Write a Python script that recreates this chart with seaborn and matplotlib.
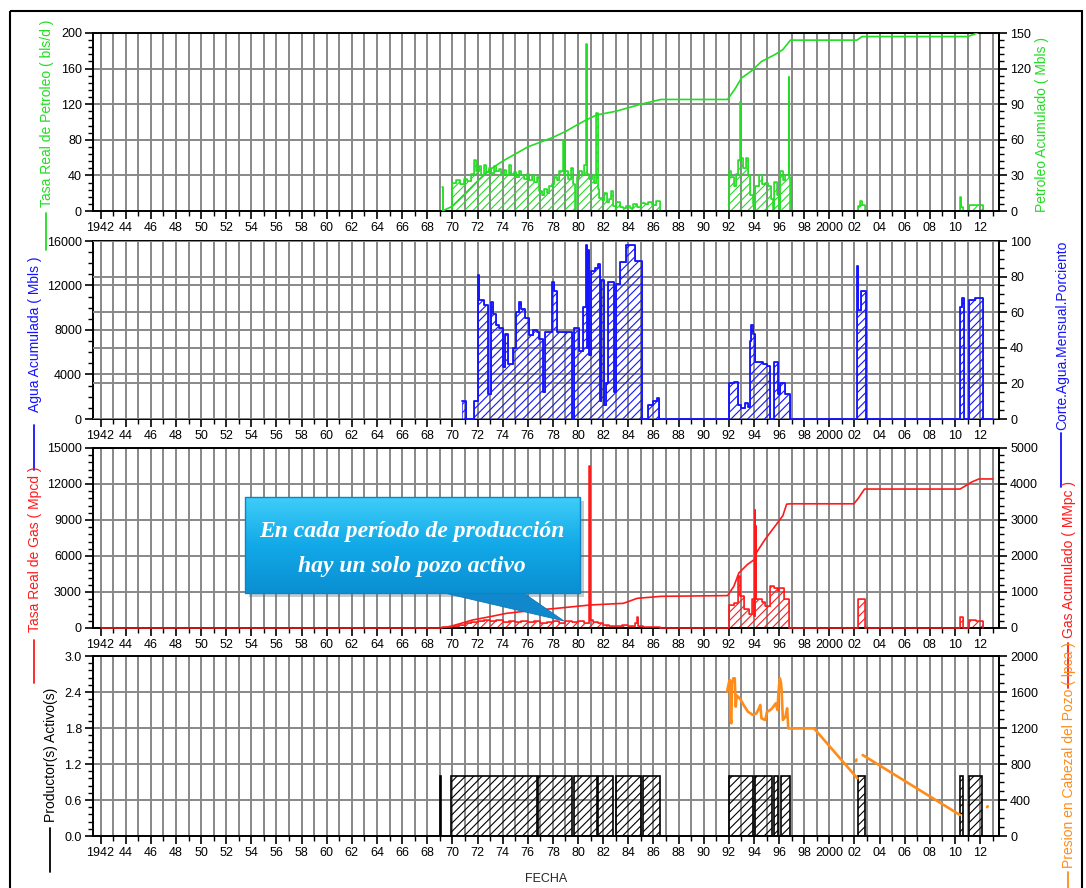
import numpy as np
import pandas as pd
import matplotlib
matplotlib.use('Agg')
import matplotlib.pyplot as plt
import seaborn as sns
from matplotlib.ticker import MultipleLocator, AutoMinorLocator
from matplotlib.patches import Rectangle, Polygon
from matplotlib.colors import LinearSegmentedColormap

sns.set_theme(style='ticks')
plt.rcParams['font.family'] = ['Liberation Sans', 'DejaVu Sans']
plt.rcParams['hatch.linewidth'] = 0.8

GREEN = '#22dd22'
BLUE = '#1414ff'
RED = '#ff1a1a'
ORANGE = '#ff8c1a'
GRID = '#888888'

# ---- x axis ----
year_ticks = list(range(1942, 2013, 2))
year_labels = [str(y) if y in (1942, 2000) else f'{y % 100:02d}' for y in year_ticks]

# ---- oil rate (bls/d), step values ----
oil_t = [1969.15, 1969.25, 1970.0, 1970.3, 1970.6, 1970.9, 1971.2, 1971.5, 1971.75, 1971.9,
         1972.1, 1972.3, 1972.5, 1972.7, 1972.9, 1973.1, 1973.3, 1973.5, 1973.7, 1973.9,
         1974.1, 1974.3, 1974.5, 1974.7, 1974.9, 1975.1, 1975.3, 1975.5, 1975.7, 1975.9,
         1976.1, 1976.3, 1976.5, 1976.7, 1976.9, 1977.1, 1977.3, 1977.5, 1977.7, 1977.9,
         1978.1, 1978.3, 1978.5, 1978.8, 1978.85, 1979.0, 1979.2, 1979.4, 1979.6, 1979.75,
         1979.9, 1980.1, 1980.3, 1980.5, 1980.65, 1980.7, 1980.9, 1981.1, 1981.3, 1981.45,
         1981.55, 1981.7, 1981.9, 1982.1, 1982.3, 1982.5, 1982.65, 1982.75, 1983.0, 1983.3,
         1983.6, 1983.8, 1984.1, 1984.4, 1984.7, 1985.0, 1985.3, 1985.6, 1985.9, 1986.2,
         1986.55, 1992.0, 1992.2, 1992.4, 1992.55, 1992.7, 1992.9, 1992.95, 1993.15, 1993.4,
         1993.5, 1993.7, 1993.9, 1994.05, 1994.1, 1994.4, 1994.6, 1994.9, 1995.1, 1995.35,
         1995.55, 1995.6, 1995.85, 1996.0, 1996.1, 1996.3, 1996.5, 1996.75, 1996.8, 1996.87,
         2002.25, 2002.4, 2002.6, 2002.85, 2010.4, 2010.5, 2010.65, 2011.1, 2012.2]
oil_q = [27, 0, 32, 35, 30, 36, 34, 42, 57, 45,
         50, 40, 52, 44, 48, 43, 50, 45, 47, 41,
         46, 40, 52, 42, 44, 38, 45, 40, 36, 42,
         35, 40, 33, 38, 22, 18, 25, 20, 28, 30,
         38, 35, 45, 80, 40, 45, 36, 48, 30, 0,
         38, 45, 40, 52, 188, 42, 36, 40, 32, 110,
         25, 15, 12, 20, 10, 14, 22, 6, 10, 4,
         3, 6, 3, 8, 5, 9, 8, 10, 7, 11,
         0, 45, 38, 28, 42, 57, 123, 60, 48, 59,
         40, 18, 8, 0, 28, 40, 30, 32, 28, 14,
         0, 33, 18, 0, 45, 35, 40, 150, 38, 0,
         6, 11, 7, 0, 16, 5, 0, 7, 0]

# ---- cumulative oil (Mbls) ----
oil_cum_t = [1969.2, 1970.0, 1971.0, 1972.0, 1973.0, 1974.0, 1975.0, 1976.0, 1977.0, 1978.0,
             1979.0, 1980.0, 1980.7, 1981.5, 1982.0, 1983.0, 1984.0, 1985.0, 1986.6, 1991.9,
             1992.5, 1993.0, 1993.8, 1994.6, 1995.7, 1996.3, 1996.9, 2002.2, 2002.6, 2011.0,
             2011.8]
oil_cum = [0, 4, 14, 25, 35, 42, 48, 54, 58, 62,
           67, 73, 77, 81, 82, 84, 87, 90, 94, 94,
           103, 112, 118, 126, 132, 136, 144, 144, 147, 147,
           150]

# ---- water cut (%) ----
wc_t = [1970.8, 1971.1, 1971.7, 1972.05, 1972.12, 1972.5, 1972.8, 1973.05, 1973.2, 1973.45,
        1973.7, 1974.0, 1974.15, 1974.4, 1974.8, 1975.1, 1975.3, 1975.5, 1975.8, 1976.1,
        1976.4, 1976.7, 1976.9, 1977.2, 1977.4, 1977.9, 1978.1, 1978.35, 1979.55, 1979.7,
        1980.1, 1980.4, 1980.65, 1980.72, 1980.8, 1980.9, 1981.0, 1981.35, 1981.6, 1981.75,
        1981.82, 1982.1, 1982.25, 1982.35, 1982.9, 1983.0, 1983.3, 1983.8, 1984.5, 1985.1,
        1985.6, 1985.95, 1986.25, 1986.45, 1992.0, 1992.4, 1992.7, 1993.0, 1993.3, 1993.5,
        1993.65, 1993.8, 1993.9, 1994.07, 1994.7, 1995.0, 1995.3, 1995.6, 1995.95, 1996.1,
        1996.5, 1996.85, 2002.2, 2002.27, 2002.5, 2002.9, 2010.4, 2010.55, 2010.72, 2011.1,
        2011.6, 2012.2, 2013.0]
wc_v = [10, 0, 10, 81, 67, 64, 14, 66, 59, 53,
        51, 29, 48, 31, 40, 60, 66, 62, 57, 47,
        50, 49, 45, 15, 49, 77, 72, 49, 0, 51,
        38, 63, 98, 40, 95, 36, 83, 85, 87, 10,
        78, 8, 20, 77, 15, 76, 88, 98, 89, 0,
        8, 10, 12, 0, 20, 21, 8, 6, 9, 7,
        44, 53, 48, 32, 31, 30, 0, 32, 14, 20,
        14, 0, 86, 61, 72, 0, 63, 68, 0, 67,
        68, 0, 0]

# ---- gas rate (Mpcd) ----
gas_t = [1942.0, 1969.2, 1970.0, 1970.5, 1971.0, 1971.5, 1972.0, 1972.5, 1973.0, 1973.5,
         1974.0, 1974.5, 1975.0, 1975.5, 1976.0, 1976.5, 1977.0, 1977.5, 1978.0, 1978.5,
         1979.0, 1979.5, 1980.0, 1980.5, 1980.9, 1980.95, 1981.2, 1981.6, 1982.0, 1982.5,
         1983.0, 1983.5, 1984.0, 1984.5, 1984.7, 1984.8, 1985.2, 1985.8, 1986.5, 1992.0,
         1992.4, 1992.75, 1992.85, 1993.2, 1993.6, 1993.85, 1994.0, 1994.07, 1994.12, 1994.15,
         1994.2, 1994.6, 1994.9, 1995.3, 1995.6, 1995.9, 1996.0, 1996.4, 1996.8, 2002.3,
         2002.8, 2010.4, 2010.6, 2011.1, 2011.7, 2012.2]
gas_q = [0, 80, 150, 250, 400, 500, 600, 700, 550, 650,
         500, 600, 520, 580, 480, 550, 450, 500, 550, 450,
         600, 500, 550, 400, 13500, 700, 500, 400, 250, 200,
         150, 250, 200, 400, 950, 200, 100, 80, 0, 1950,
         2100, 4300, 2650, 1550, 1200, 2400, 1000, 9800, 2400, 8500,
         2400, 2200, 1800, 3500, 3300, 3100, 3350, 2400, 0, 2400,
         0, 950, 0, 700, 550, 0]

# ---- cumulative gas (MMpc) ----
gas_cum_t = [1969.2, 1970.0, 1971.0, 1971.6, 1973.0, 1974.3, 1976.4, 1978.3, 1981.0, 1983.6,
             1984.2, 1984.7, 1986.6, 1991.9, 1992.4, 1992.8, 1993.5, 1994.07, 1994.2, 1994.9,
             1995.7, 1996.3, 1996.6, 1996.9, 2001.95, 2002.3, 2002.8, 2010.4, 2010.7, 2011.3,
             2011.9, 2013.0]
gas_cum = [0, 60, 160, 222, 315, 407, 490, 546, 640, 685,
           760, 824, 880, 900, 1160, 1530, 1770, 1910, 2095, 2470,
           2840, 3120, 3440, 3450, 3450, 3600, 3860, 3860, 3920, 4050,
           4140, 4140]

# ---- active producers ----
prod_start = [1969.0, 1969.9, 1976.8, 1979.7, 1981.6, 1983.05, 1985.2, 1992.0, 1994.07, 1995.6,
              1996.15, 2002.3, 2010.4, 2011.1]
prod_end = [1969.08, 1976.75, 1979.55, 1981.5, 1982.8, 1985.0, 1986.55, 1993.93, 1995.4, 1995.95,
            1996.9, 2002.85, 2010.65, 2012.15]
prod_n = [1, 1, 1, 1, 1, 1, 1, 1, 1, 1, 1, 1, 1, 1]

# ---- wellhead pressure (lpca) ----
pres_t = [1991.86, 1992.0, 1992.08, 1992.15, 1992.2, 1992.25, 1992.35, 1992.47, 1992.55, 1992.62,
          1992.74, 1992.96, 1993.2, 1993.52, 1993.93, 1994.2, 1994.4, 1994.5, 1994.6, 1994.9,
          1995.04, 1995.3, 1995.45, 1995.73, 1995.87, 1995.95, 1996.06, 1996.15, 1996.2, 1996.3,
          1996.5, 1996.64, 1996.73, 1998.78, 2002.23,
          2002.12, 2002.16,
          2002.65, 2010.4,
          2012.55, 2012.6]
pres_v = [1604, 1700, 1733, 1300, 1252, 1700, 1752, 1752, 1437, 1560,
          1548, 1511, 1450, 1381, 1344, 1363, 1420, 1456, 1307, 1289,
          1381, 1400, 1419, 1474, 1400, 1600, 1752, 1700, 1622, 1289,
          1326, 1419, 1196, 1196, 641,
          830, 850,
          900, 233,
          320, 330]
pres_seg = [0] * 35 + [1] * 2 + [2] * 2 + [3] * 2
pres = pd.DataFrame({'t': pres_t, 'p': pres_v, 'seg': pres_seg})

W, H = 1086, 888
fig = plt.figure(figsize=(W / 100, H / 100), dpi=100)
fig.patch.set_facecolor('white')


def panel(top, bottom, ylim, ystep, yminor, ylim2, ystep2, yminor2, fmt='{:.0f}', grid2=False):
    ax = fig.add_axes([93 / W, 1 - bottom / H, (999 - 93) / W, (bottom - top) / H])
    ax.set_facecolor('white')
    ax2 = ax.twinx()
    ax.set_xlim(1941.4, 2013.5)
    ax.set_xticks(year_ticks)
    ax.set_xticklabels(year_labels)
    ax.xaxis.set_minor_locator(MultipleLocator(1))
    ax.set_ylim(*ylim)
    ax.yaxis.set_major_locator(MultipleLocator(ystep))
    ax.yaxis.set_minor_locator(AutoMinorLocator(yminor))
    ax.set_yticklabels([fmt.format(v) for v in ax.get_yticks()])
    ax2.set_ylim(*ylim2)
    ax2.yaxis.set_major_locator(MultipleLocator(ystep2))
    ax2.yaxis.set_minor_locator(AutoMinorLocator(yminor2))
    ax.grid(axis='x', which='both', color=GRID, lw=1.4)
    ax.grid(axis='y', which='major', color=GRID, lw=1.4)
    ax.set_axisbelow(True)
    if grid2:
        ax2.grid(axis='y', which='major', color=GRID, lw=1.4)
        ax2.set_axisbelow(True)
    else:
        ax2.grid(False)
    for s in ax.spines.values():
        s.set_color('black')
        s.set_linewidth(1.4)
        s.set_visible(True)
    # the twin only keeps its right spine so data lines of the base axes stay on top
    for name, s in ax2.spines.items():
        s.set_color('black')
        s.set_linewidth(1.4)
        s.set_visible(name == 'right')
    for a in (ax, ax2):
        a.tick_params(which='major', direction='out', length=6, width=1.2, color='black',
                      labelsize=9, pad=2, labelcolor='black')
        a.tick_params(which='minor', direction='out', length=3.5, width=1.0, color='black')
    return ax, ax2


def hatched_steps(ax, t, v, color, lw=1.1, clip=True, z=3):
    ax.fill_between(t, v, step='post', facecolor='none', edgecolor=color, hatch='////',
                    linewidth=0.5, zorder=2)
    ax.step(t, v, where='post', color=color, lw=lw, zorder=z, clip_on=clip)


# Panel 1: oil (rate line kept under the bottom spine where it is zero)
ax1, ax1r = panel(33, 211, (0, 200), 40, 5, (0, 150), 30, 5)
hatched_steps(ax1, oil_t, oil_q, GREEN, z=2.4)
sns.lineplot(x=oil_cum_t, y=oil_cum, ax=ax1r, color=GREEN, lw=1.2)

# Panel 2: water cut
ax2, ax2r = panel(241, 419, (0, 16000), 4000, 4, (0, 100), 20, 4, grid2=True)
hatched_steps(ax2r, wc_t, wc_v, BLUE, lw=1.3, clip=False)

# Panel 3: gas
ax3, ax3r = panel(448, 628, (0, 15000), 3000, 5, (0, 5000), 1000, 5)
hatched_steps(ax3, gas_t, gas_q, RED, clip=False)
sns.lineplot(x=gas_cum_t, y=gas_cum, ax=ax3r, color=RED, lw=1.2)

# Panel 4: producers + pressure
ax4, ax4r = panel(656, 836, (0, 3.0), 0.6, 5, (0, 2000), 400, 4, fmt='{:.1f}')
ax4.bar(prod_start, prod_n, width=np.subtract(prod_end, prod_start), align='edge',
        facecolor='none', edgecolor='black', hatch='////', linewidth=1.2, zorder=2)
sns.lineplot(data=pres, x='t', y='p', units='seg', estimator=None, sort=False, ax=ax4r,
             color=ORANGE, lw=1.9)

for a in (ax1, ax1r, ax2, ax2r, ax3, ax3r, ax4, ax4r):
    a.set_xlabel('')
    a.set_ylabel('')
ax4.set_xlabel('FECHA', fontsize=9, labelpad=10)

# ---- overlay in pixel coordinates: labels, callout, frame ----
ov = fig.add_axes([0, 0, 1, 1], zorder=10)
ov.set_xlim(0, W)
ov.set_ylim(H, 0)
ov.axis('off')

ylabels = [
    ('Tasa Real de Petroleo ( bls/d )', 47, 207, (213, 250), GREEN),
    ('Agua Acumulada ( Mbls )', 35, 412, (425, 470), BLUE),
    ('Tasa Real de Gas ( Mpcd )', 35, 632, (640, 683), RED),
    ('Productor(s) Activo(s)', 51, 822, (828, 872), 'black'),
    ('Petroleo Acumulado ( Mbls )', 1042, 212, None, GREEN),
    ('Corte.Agua.Mensual.Porciento', 1062, 430, (433, 487), BLUE),
    ('Gas Acumulado ( MMpc )', 1069, 638, (643, 688), RED),
    ('Presion en Cabezal del Pozo ( lpca )', 1069, 868, (872, 895), ORANGE),
]
for text, x, yb, dash, col in ylabels:
    ov.text(x, yb, text, rotation=90, ha='center', va='bottom', color=col, fontsize=10)
    if dash is not None:
        ov.plot([x - 1, x - 1], dash, color=col, lw=1.3, clip_on=False)

# callout
ov.add_patch(Rectangle((249, 501), 335, 96, facecolor='#5a6a78', alpha=0.35, lw=0))
ov.add_patch(Polygon([(440, 592), (522, 592), (564, 621)], closed=True,
                     facecolor='#1288cc', edgecolor='#0b78b8', lw=0.6))
cmap = LinearSegmentedColormap.from_list('callout', ['#3fcdf8', '#12a9e8', '#0a8fd2'])
grad = np.linspace(0, 1, 64).reshape(-1, 1)
ov.imshow(grad, extent=[245, 580, 593, 497], cmap=cmap, aspect='auto', zorder=2)
ov.add_patch(Rectangle((245, 497), 335, 96, fill=False, edgecolor='#0a86c6', lw=1.0, zorder=3))
ov.text(412, 531, 'En cada período de producción', color='white', ha='center', va='center',
        family=['Liberation Serif', 'DejaVu Serif'], style='italic', weight='bold',
        fontsize=17, zorder=4)
ov.text(412, 566, 'hay un solo pozo activo', color='white', ha='center', va='center',
        family=['Liberation Serif', 'DejaVu Serif'], style='italic', weight='bold',
        fontsize=17, zorder=4)
ov.set_xlim(0, W)
ov.set_ylim(H, 0)

# outer frame
ov.add_patch(Rectangle((10, 11), 1072, 890, fill=False, edgecolor='black', lw=1.5, clip_on=False))

fig.savefig('out.png', dpi=100)
